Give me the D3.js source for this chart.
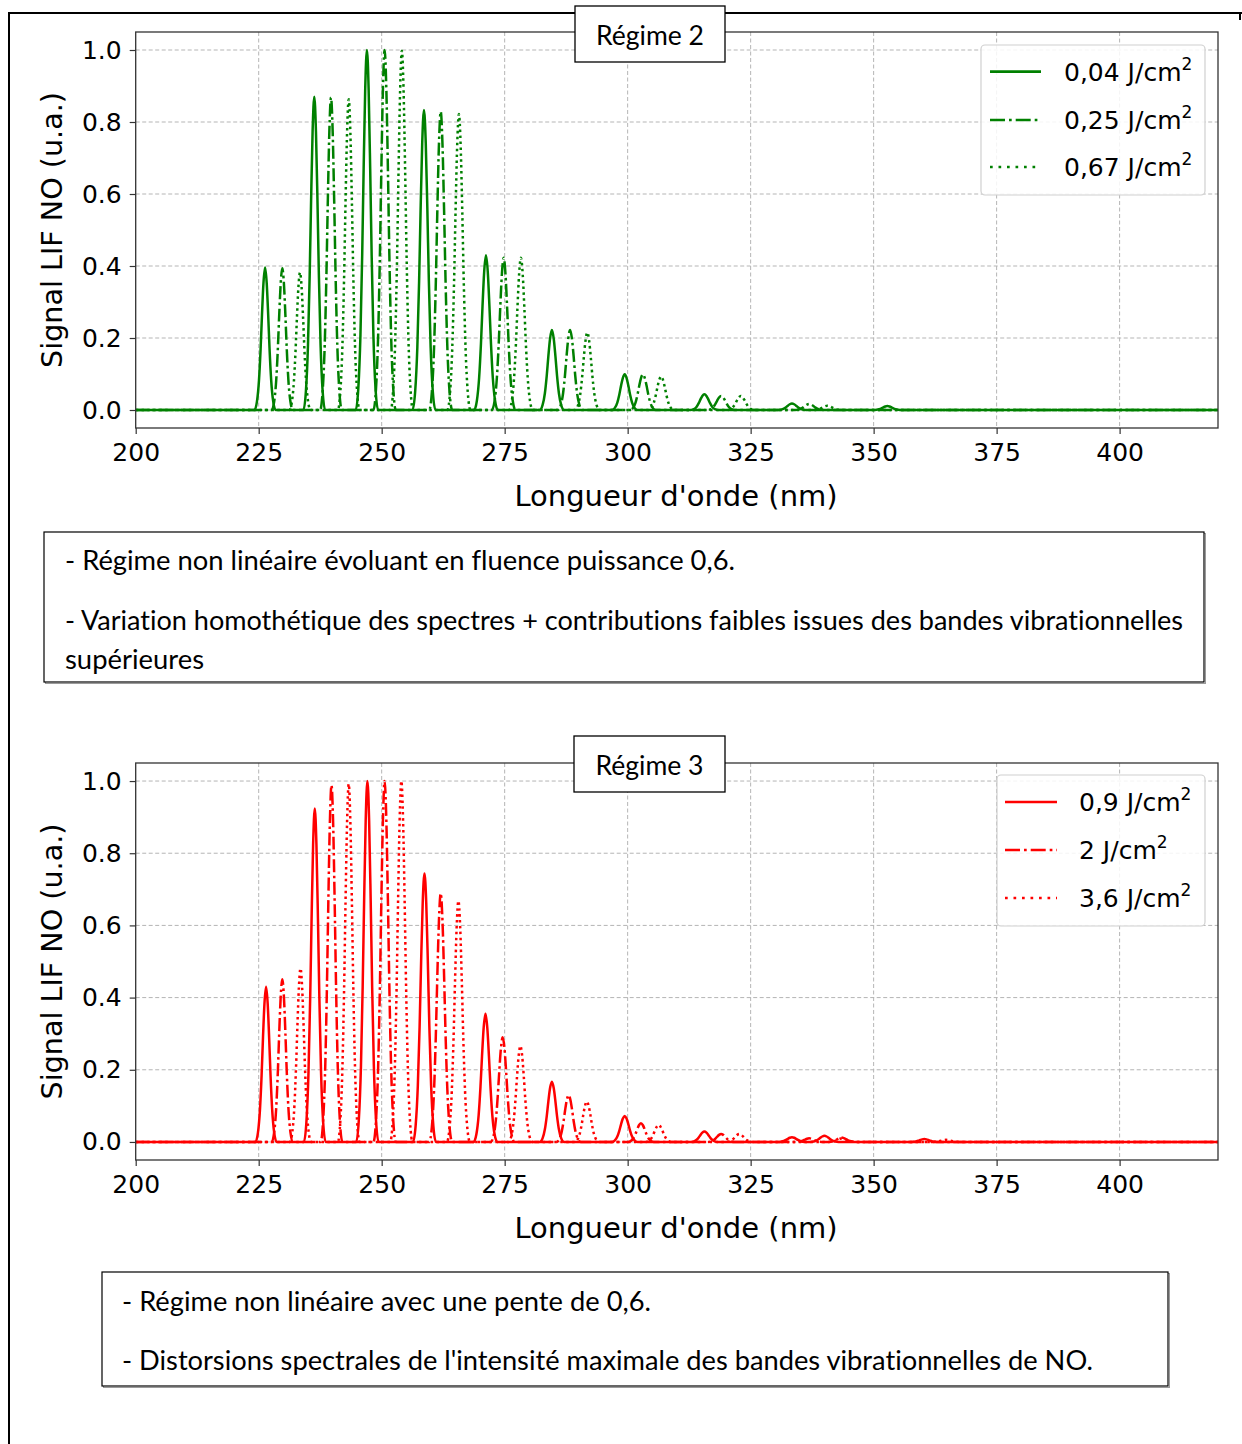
<!DOCTYPE html>
<html><head><meta charset="utf-8">
<script src="https://cdn.jsdelivr.net/npm/d3@7"></script>
<style>body{margin:0;background:#fff} svg{display:block} text{font-variant-ligatures:none;font-feature-settings:"liga" 0}</style>
</head><body><svg id="c" width="1242" height="1444"></svg>
<script>
// ---------- data ----------
const xTicks = [200, 225, 250, 275, 300, 325, 350, 375, 400];
const yTicks = [0, 0.2, 0.4, 0.6, 0.8, 1.0];
const yTickLabels = ["0.0", "0.2", "0.4", "0.6", "0.8", "1.0"];
const xDomain = [200, 420];
const yDomain = [-0.05, 1.05];

// band FWHM (nm) per vibrational band index
const bandFwhm = [1.65, 1.7, 1.75, 1.8, 1.85, 1.9, 2.0, 2.1, 2.2, 2.2, 2.2];
// line profile read from a peak: offset (in FWHM units) and relative level
const profileOffsets = [-1.3, -1.0, -0.75, -0.55, -0.38, -0.2, 0, 0.2, 0.38, 0.55, 0.75, 1.0, 1.3];
const profileLevels  = [0, 0.06, 0.21, 0.43, 0.67, 0.89, 1, 0.89, 0.67, 0.43, 0.21, 0.06, 0];

// Régime 2
const r2Labels = ["0,04", "0,25", "0,67"];
const r2SolidPos = [226.3, 236.3, 247.0, 258.6, 271.2, 284.6, 299.4, 315.6, 333.4, 352.8];
const r2SolidVal = [0.396, 0.870, 1.0, 0.833, 0.430, 0.222, 0.099, 0.044, 0.018, 0.011];
const r2DashPos  = [229.8, 239.7, 250.6, 262.0, 274.8, 288.3, 303.1, 319.0, 336.9];
const r2DashVal  = [0.394, 0.868, 1.0, 0.829, 0.423, 0.222, 0.099, 0.039, 0.017];
const r2DotPos   = [233.4, 243.3, 254.1, 265.7, 278.3, 291.8, 306.8, 323.0, 340.6];
const r2DotVal   = [0.382, 0.863, 0.998, 0.822, 0.423, 0.215, 0.093, 0.039, 0.012];

// Régime 3
const r3Labels = ["0,9", "2", "3,6"];
const r3SolidPos = [226.5, 236.4, 247.1, 258.7, 271.1, 284.6, 299.4, 315.6, 333.4, 340.0, 360.3];
const r3SolidVal = [0.430, 0.924, 1.0, 0.744, 0.355, 0.167, 0.072, 0.029, 0.013, 0.017, 0.008];
const r3DashPos  = [229.8, 239.8, 250.6, 262.0, 274.6, 288.0, 302.7, 319.0, 336.9, 343.5];
const r3DashVal  = [0.451, 0.989, 1.0, 0.689, 0.290, 0.130, 0.052, 0.022, 0.010, 0.012];
const r3DotPos   = [233.5, 243.3, 254.0, 265.6, 278.2, 291.7, 306.3, 322.7, 343.6, 364.7];
const r3DotVal   = [0.481, 0.992, 1.0, 0.668, 0.266, 0.112, 0.047, 0.022, 0.010, 0.006];

const titleTop = "Régime 2";
const titleBottom = "Régime 3";
const noteTop = ["- Régime non linéaire évoluant en fluence puissance 0,6.",
  "- Variation homothétique des spectres + contributions faibles issues des bandes vibrationnelles",
  "supérieures"];
const noteBottom = ["- Régime non linéaire avec une pente de 0,6.",
  "- Distorsions spectrales de l'intensité maximale des bandes vibrationnelles de NO."];

// ---------- drawing ----------
const svg = d3.select('#c');
const TICKFONT = "'DejaVu Sans', sans-serif";
const BOXFONT = "Lato, 'Open Sans', sans-serif";

function spectrum(pos, val) {
  const pts = [[xDomain[0], 0]];
  pos.forEach((c, i) => {
    const w = bandFwhm[Math.min(i, bandFwhm.length - 1)];
    profileOffsets.forEach((o, k) => pts.push([c + o * w, val[i] * profileLevels[k]]));
  });
  pts.push([xDomain[1], 0]);
  return pts;
}

// outer frame
svg.append('line').attr('x1', 9).attr('x2', 9).attr('y1', 13).attr('y2', 1444).attr('stroke', '#000').attr('stroke-width', 2);
svg.append('line').attr('x1', 8).attr('x2', 1242).attr('y1', 13).attr('y2', 13).attr('stroke', '#000').attr('stroke-width', 2);
svg.append('line').attr('x1', 1240).attr('x2', 1240).attr('y1', 13).attr('y2', 20).attr('stroke', '#000').attr('stroke-width', 2);

function drawChart(o) {
  const x = d3.scaleLinear().domain(xDomain).range([135.7, 1218]);
  const y = d3.scaleLinear().domain(yDomain).range([o.bottom, o.top]);
  const g = svg.append('g');

  // grid
  g.append('g').selectAll('line').data(xTicks.slice(1)).join('line')
    .attr('x1', d => x(d)).attr('x2', d => x(d)).attr('y1', o.top).attr('y2', o.bottom)
    .attr('stroke', '#b5b5b5').attr('stroke-width', 1).attr('stroke-dasharray', '4,2.5');
  g.append('g').selectAll('line').data(yTicks).join('line')
    .attr('x1', x(xDomain[0])).attr('x2', x(xDomain[1])).attr('y1', d => y(d)).attr('y2', d => y(d))
    .attr('stroke', '#b5b5b5').attr('stroke-width', 1).attr('stroke-dasharray', '4,2.5');

  // spectra
  const line = d3.line().x(d => x(d[0])).y(d => y(d[1])).curve(d3.curveMonotoneX);
  o.series.forEach(s => {
    g.append('path').attr('d', line(spectrum(s.pos, s.val)))
      .attr('fill', 'none').attr('stroke', o.color).attr('stroke-width', 2.5)
      .attr('stroke-linejoin', 'round')
      .attr('stroke-dasharray', s.dash);
  });

  // spines
  g.append('rect').attr('x', x(xDomain[0])).attr('y', o.top)
    .attr('width', x(xDomain[1]) - x(xDomain[0])).attr('height', o.bottom - o.top)
    .attr('fill', 'none').attr('stroke', '#333').attr('stroke-width', 1.3);

  // axes
  const xa = g.append('g').attr('transform', `translate(0,${o.bottom})`)
    .call(d3.axisBottom(x).tickValues(xTicks).tickSize(6).tickPadding(9).tickFormat(d3.format('d')));
  xa.select('.domain').remove();
  xa.selectAll('line').attr('stroke', '#333').attr('stroke-width', 1.2);
  xa.selectAll('text').attr('font-family', TICKFONT).attr('font-size', 25).attr('fill', '#000');

  const ya = g.append('g').attr('transform', `translate(${x(xDomain[0])},0)`)
    .call(d3.axisLeft(y).tickValues(yTicks).tickSize(6).tickPadding(8).tickFormat((d, i) => yTickLabels[i]));
  ya.select('.domain').remove();
  ya.selectAll('line').attr('stroke', '#333').attr('stroke-width', 1.2);
  ya.selectAll('text').attr('font-family', TICKFONT).attr('font-size', 25).attr('fill', '#000');

  // axis labels
  g.append('text').attr('x', 676).attr('y', o.bottom + 78).attr('text-anchor', 'middle')
    .attr('font-family', TICKFONT).attr('font-size', 29).text("Longueur d'onde (nm)");
  g.append('text').attr('transform', `translate(61.5,${(o.top + o.bottom) / 2}) rotate(-90)`)
    .attr('text-anchor', 'middle').attr('font-family', TICKFONT).attr('font-size', 28.6)
    .text('Signal LIF NO (u.a.)');

  // legend
  const L = o.legend;
  g.append('rect').attr('x', L.x).attr('y', L.y).attr('width', L.w).attr('height', L.h)
    .attr('rx', 4).attr('fill', '#fff').attr('fill-opacity', 0.85).attr('stroke', '#d0d0d0').attr('stroke-width', 1.2);
  o.series.forEach((s, i) => {
    const ry = L.rows[i];
    g.append('line').attr('x1', L.lx1).attr('x2', L.lx2).attr('y1', ry).attr('y2', ry)
      .attr('stroke', o.color).attr('stroke-width', 2.7).attr('stroke-dasharray', s.legDash);
    const t = g.append('text').attr('x', L.tx).attr('y', ry + 9)
      .attr('font-family', TICKFONT).attr('font-size', 25).attr('fill', '#000');
    t.append('tspan').text(s.label + ' J/cm');
    t.append('tspan').attr('font-size', 17).attr('dy', -11).text('2');
  });

  // title box
  const T = o.title;
  g.append('rect').attr('x', T.x).attr('y', T.y).attr('width', T.w).attr('height', T.h)
    .attr('fill', '#fff').attr('stroke', '#000').attr('stroke-width', 1.3);
  g.append('text').attr('x', T.x + T.w / 2).attr('y', T.base).attr('text-anchor', 'middle')
    .attr('font-family', BOXFONT).attr('font-size', 27).attr('fill', '#000')
    .attr('textLength', T.tw).attr('lengthAdjust', 'spacingAndGlyphs').text(T.text);
}

function drawNote(n) {
  svg.append('rect').attr('x', n.x + 1.5).attr('y', n.y + 1.5).attr('width', n.w).attr('height', n.h)
    .attr('fill', 'none').attr('stroke', '#9a9a9a').attr('stroke-width', 1);
  svg.append('rect').attr('x', n.x).attr('y', n.y).attr('width', n.w).attr('height', n.h)
    .attr('fill', '#fff').attr('stroke', '#000').attr('stroke-width', 1.2);
  n.lines.forEach((l, i) => {
    svg.append('text').attr('x', n.tx).attr('y', n.bases[i])
      .attr('font-family', BOXFONT).attr('font-size', 26).attr('fill', '#000')
      .attr('textLength', n.widths[i]).attr('lengthAdjust', 'spacingAndGlyphs').text(l);
  });
}

drawChart({
  top: 32, bottom: 428, color: '#008000',
  series: [
    {pos: r2SolidPos, val: r2SolidVal, dash: null, legDash: null, label: r2Labels[0]},
    {pos: r2DashPos, val: r2DashVal, dash: '13,3.5,2.5,3.5', legDash: '15,4,2.7,4', label: r2Labels[1]},
    {pos: r2DotPos, val: r2DotVal, dash: '2.5,3.4', legDash: '2.7,5.8', label: r2Labels[2]}
  ],
  legend: {x: 981, y: 45, w: 224, h: 150, rows: [71.7, 120, 167], lx1: 990, lx2: 1041, tx: 1064},
  title: {x: 575, y: 6, w: 150, h: 56, base: 45, tw: 108, text: titleTop}
});

drawChart({
  top: 763, bottom: 1160, color: '#ff0000',
  series: [
    {pos: r3SolidPos, val: r3SolidVal, dash: null, legDash: null, label: r3Labels[0]},
    {pos: r3DashPos, val: r3DashVal, dash: '13,3.5,2.5,3.5', legDash: '15,4,2.7,4', label: r3Labels[1]},
    {pos: r3DotPos, val: r3DotVal, dash: '2.5,3.4', legDash: '2.7,5.8', label: r3Labels[2]}
  ],
  legend: {x: 997, y: 775, w: 208, h: 151, rows: [802, 850, 898], lx1: 1005, lx2: 1057, tx: 1079},
  title: {x: 574, y: 736, w: 151, h: 56, base: 775, tw: 108, text: titleBottom}
});

drawNote({x: 44, y: 532, w: 1160, h: 150, tx: 65, lines: noteTop,
  bases: [570, 630, 669], widths: [670, 1118, 139]});
drawNote({x: 102, y: 1272, w: 1066, h: 114, tx: 122, lines: noteBottom,
  bases: [1311, 1370], widths: [529, 971]});
</script></body></html>
